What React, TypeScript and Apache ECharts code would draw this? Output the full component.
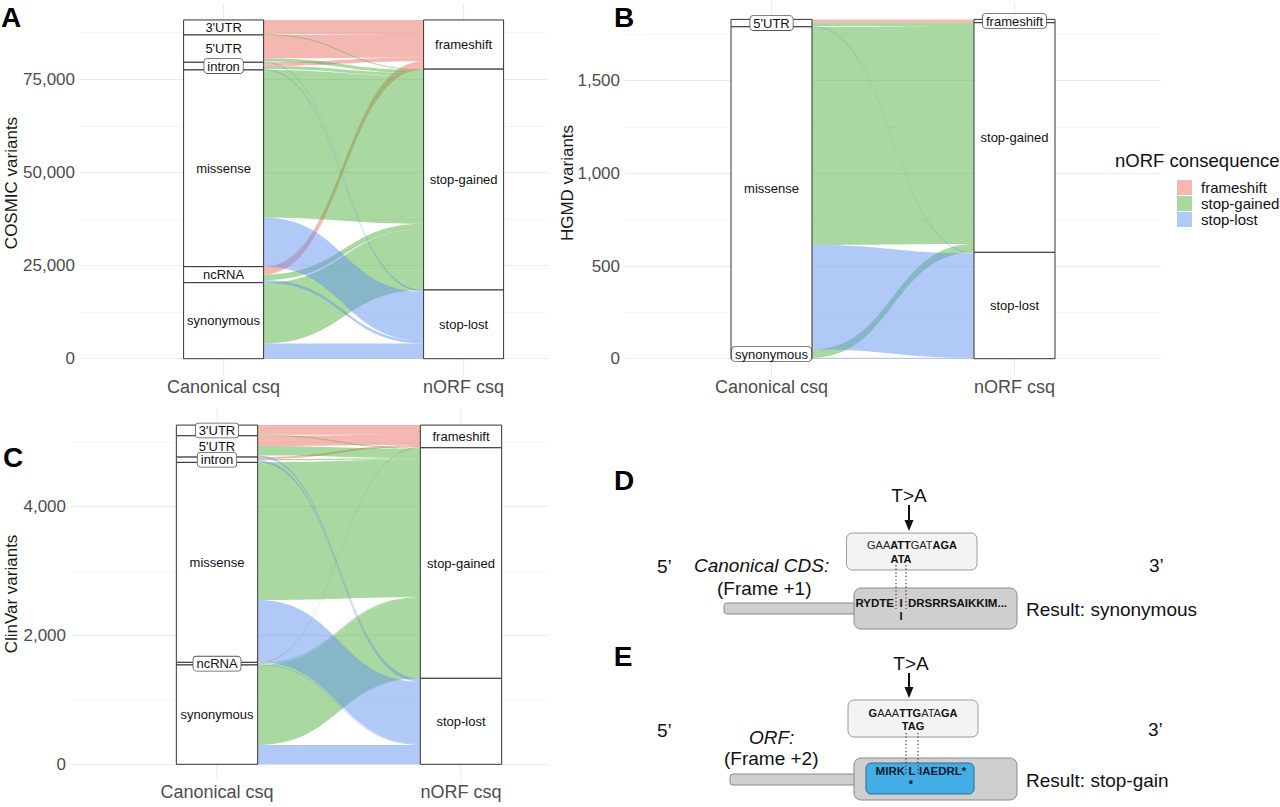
import React, { useEffect, useRef } from "react";
import * as echarts from "echarts";

const FONT = "'Liberation Sans', Arial, Helvetica, sans-serif";

// ---------- data ----------
const canonicalCsq = ["3'UTR", "5'UTR", "intron", "missense", "ncRNA", "synonymous"];
const norfCsq = ["frameshift", "stop-gained", "stop-lost"];
const axisCategories = ["Canonical csq", "nORF csq"];

// flows: one array per nORF consequence, values per canonical consequence (same order as canonicalCsq)
const cosmicFrameshift = [3800, 6300, 1000, 0, 2100, 0];
const cosmicStopGained = [230, 800, 800, 39650, 1500, 16300];
const cosmicStopLost = [0, 230, 260, 13150, 700, 4100];

const hgmdFrameshift = [0, 18, 0, 0, 0, 0];
const hgmdStopGained = [0, 17, 0, 1177, 0, 45];
const hgmdStopLost = [0, 5, 0, 564, 0, 5];

const clinvarFrameshift = [150, 160, 30, 0, 12, 0];
const clinvarStopGained = [16, 146, 22, 2137, 17, 1242];
const clinvarStopLost = [0, 25, 30, 968, 12, 300];

// strata whose labels are drawn in a box (geom_label)
const cosmicBoxed = ["intron"];
const hgmdBoxed = ["5'UTR", "synonymous", "frameshift"];
const clinvarBoxed = ["3'UTR", "intron", "ncRNA"];

const yTitles = ["COSMIC variants", "HGMD variants", "ClinVar variants"];
const panelLetters = ["A", "B", "C", "D", "E"];

// ---------- styles ----------
const FLOW_COLORS = ["rgba(236,112,99,0.5)", "rgba(84,178,66,0.5)", "rgba(100,148,238,0.5)"];
const BOX_W = 1 / 3;

function buildAlluvial(flows: number[][], boxed: string[]) {
  const leftTot = canonicalCsq.map((_, i) => flows.reduce((s, f) => s + f[i], 0));
  const rightTot = norfCsq.map((_, k) => flows[k].reduce((s, v) => s + v, 0));
  const total = leftTot.reduce((a, b) => a + b, 0);
  const strata: number[][] = [];
  const lodeL: number[][][] = norfCsq.map(() => []);
  const lodeR: number[][][] = norfCsq.map(() => []);
  let cur = total;
  canonicalCsq.forEach((name, i) => {
    if (leftTot[i] > 0) strata.push([1, cur - leftTot[i], cur, i, 0, boxed.includes(name) ? 1 : 0]);
    norfCsq.forEach((_, k) => {
      lodeL[k][i] = [cur - flows[k][i], cur];
      cur -= flows[k][i];
    });
  });
  cur = total;
  norfCsq.forEach((name, k) => {
    if (rightTot[k] > 0) strata.push([2, cur - rightTot[k], cur, k, 1, boxed.includes(name) ? 1 : 0]);
    canonicalCsq.forEach((_, i) => {
      lodeR[k][i] = [cur - flows[k][i], cur];
      cur -= flows[k][i];
    });
  });
  const flowItems: number[][] = [];
  norfCsq.forEach((_, k) => {
    canonicalCsq.forEach((_, i) => {
      if (flows[k][i] > 0) flowItems.push([lodeL[k][i][0], lodeL[k][i][1], lodeR[k][i][0], lodeR[k][i][1], k]);
    });
  });
  return { strata, flowItems, total };
}

const panels = [
  {
    flows: [cosmicFrameshift, cosmicStopGained, cosmicStopLost], boxed: cosmicBoxed,
    grid: { left: 80, top: 32.7, width: 468, height: 326 }, xMin: 0.40167, xMax: 2.35167,
    yMax: 87500, yStep: 12500, yMajor: 25000,
  },
  {
    flows: [hgmdFrameshift, hgmdStopGained, hgmdStopLost], boxed: hgmdBoxed,
    grid: { left: 625, top: 34.4, width: 536, height: 324.3 }, xMin: 0.3971, xMax: 2.6029,
    yMax: 1750, yStep: 250, yMajor: 500,
  },
  {
    flows: [clinvarFrameshift, clinvarStopGained, clinvarStopLost], boxed: clinvarBoxed,
    grid: { left: 71, top: 442.3, width: 477, height: 322 }, xMin: 0.4016, xMax: 2.3566,
    yMax: 5000, yStep: 1000, yMajor: 2000,
  },
];

function txt(x: number, y: number, text: string, o: any = {}) {
  return {
    type: "text", x, y, silent: true, rotation: o.rotation || 0,
    style: {
      text, fontFamily: FONT, fontSize: o.size || 19, fontWeight: o.weight || "normal",
      fontStyle: o.italic ? "italic" : "normal", fill: o.color || "#111",
      align: o.align || "left", verticalAlign: "middle", rich: o.rich,
    },
  };
}

function seqRich(size: number) {
  return {
    n: { fontFamily: FONT, fontSize: size, fill: "#222" },
    b: { fontFamily: FONT, fontSize: size, fontWeight: "bold", fill: "#111" },
  };
}

function buildDiagram() {
  const g: any[] = [];
  const boxStroke = "#8A8A8A";
  const dash = { stroke: "#222", lineWidth: 1.1, lineDash: [1.2, 2.4] };
  // ---- D ----
  g.push(txt(657, 566, "5\u2019"));
  g.push(txt(1149, 565, "3\u2019"));
  g.push(txt(694, 565, "Canonical CDS:", { italic: true }));
  g.push(txt(717, 588, "(Frame +1)"));
  g.push(txt(909, 495, "T>A", { align: "center" }));
  g.push({ type: "line", silent: true, shape: { x1: 909, y1: 505, x2: 909, y2: 522 }, style: { stroke: "#111", lineWidth: 2 } });
  g.push({ type: "polygon", silent: true, shape: { points: [[904.5, 520], [913.5, 520], [909, 531]] }, style: { fill: "#111" } });
  g.push({ type: "rect", silent: true, shape: { x: 846.5, y: 533, width: 130.5, height: 37, r: 6 }, style: { fill: "#F3F3F3", stroke: "#9A9A9A", lineWidth: 1 } });
  g.push(txt(912, 545, "{n|GAA}{b|ATT}{n|GAT}{b|AGA}", { align: "center", rich: seqRich(11) }));
  g.push(txt(901, 559, "ATA", { align: "center", size: 11, weight: "bold" }));
  g.push({ type: "rect", silent: true, shape: { x: 724, y: 603, width: 136, height: 11, r: 3 }, style: { fill: "#CFCFCF", stroke: boxStroke, lineWidth: 1 } });
  g.push({ type: "rect", silent: true, shape: { x: 854, y: 588, width: 163, height: 41, r: 7 }, style: { fill: "#CFCFCF", stroke: boxStroke, lineWidth: 1 } });
  g.push({ type: "line", silent: true, shape: { x1: 896, y1: 565, x2: 896, y2: 609 }, style: dash });
  g.push({ type: "line", silent: true, shape: { x1: 906, y1: 565, x2: 906, y2: 609 }, style: dash });
  g.push(txt(894, 603, "RYDTE", { align: "right", size: 11.5, weight: "bold" }));
  g.push(txt(901, 603, "I", { align: "center", size: 11.5, weight: "bold" }));
  g.push(txt(908, 603, "DRSRRSAIKKIM...", { size: 11.5, weight: "bold" }));
  g.push(txt(901, 616, "I", { align: "center", size: 11, weight: "bold" }));
  g.push(txt(1026, 609, "Result: synonymous"));
  // ---- E ----
  g.push(txt(657, 730, "5\u2019"));
  g.push(txt(1148, 729, "3\u2019"));
  g.push(txt(749, 737, "ORF:", { italic: true }));
  g.push(txt(724, 758, "(Frame +2)"));
  g.push(txt(911, 663, "T>A", { align: "center" }));
  g.push({ type: "line", silent: true, shape: { x1: 909, y1: 673, x2: 909, y2: 689 }, style: { stroke: "#111", lineWidth: 2 } });
  g.push({ type: "polygon", silent: true, shape: { points: [[904.5, 687], [913.5, 687], [909, 698]] }, style: { fill: "#111" } });
  g.push({ type: "rect", silent: true, shape: { x: 848, y: 700, width: 130, height: 37, r: 6 }, style: { fill: "#F3F3F3", stroke: "#9A9A9A", lineWidth: 1 } });
  g.push(txt(913, 713, "{b|G}{n|AAA}{b|TTG}{n|ATA}{b|GA}", { align: "center", rich: seqRich(11) }));
  g.push(txt(913, 726, "TAG", { align: "center", size: 11, weight: "bold" }));
  g.push({ type: "rect", silent: true, shape: { x: 730, y: 774, width: 130, height: 11, r: 3 }, style: { fill: "#CFCFCF", stroke: boxStroke, lineWidth: 1 } });
  g.push({ type: "rect", silent: true, shape: { x: 854, y: 758, width: 163, height: 42, r: 7 }, style: { fill: "#CFCFCF", stroke: boxStroke, lineWidth: 1 } });
  g.push({ type: "rect", silent: true, shape: { x: 866, y: 763, width: 108, height: 31, r: 5 }, style: { fill: "#45ADE6", stroke: "#2E6E96", lineWidth: 1 } });
  g.push({ type: "line", silent: true, shape: { x1: 906, y1: 733, x2: 906, y2: 775 }, style: dash });
  g.push({ type: "line", silent: true, shape: { x1: 918, y1: 733, x2: 918, y2: 775 }, style: dash });
  g.push(txt(905, 771, "MIRK", { align: "right", size: 11.5, weight: "bold", color: "#0d1b2e" }));
  g.push(txt(912, 771, "L", { align: "center", size: 11.5, weight: "bold", color: "#0d1b2e" }));
  g.push(txt(919, 771, "IAEDRL*", { size: 11.5, weight: "bold", color: "#0d1b2e" }));
  g.push(txt(911, 784, "*", { align: "center", size: 11, weight: "bold", color: "#0d1b2e" }));
  g.push(txt(1026, 780, "Result: stop-gain"));
  return g;
}

function buildOption() {
  const grid: any[] = [];
  const xAxis: any[] = [];
  const yAxis: any[] = [];
  const series: any[] = [];

  panels.forEach((p, pi) => {
    const { strata, flowItems, total } = buildAlluvial(p.flows, p.boxed);
    grid.push({ ...p.grid, outerBoundsMode: "none" });
    xAxis.push({
      type: "value", gridIndex: pi, min: p.xMin, max: p.xMax,
      axisLine: { show: false }, axisTick: { show: false }, splitLine: { show: false },
      axisLabel: {
        customValues: [1, 2], margin: 19, color: "#4D4D4D", fontSize: 18, fontFamily: FONT,
        formatter: (v: number) => (Math.abs(v - 1) < 1e-6 ? axisCategories[0] : Math.abs(v - 2) < 1e-6 ? axisCategories[1] : ""),
      },
    });
    yAxis.push({
      type: "value", gridIndex: pi, min: 0, max: p.yMax, interval: p.yStep,
      axisLine: { show: false }, axisTick: { show: false },
      splitLine: { show: true, lineStyle: { color: ["#EBEBEB", "#F5F5F5"], width: 1 } },
      axisLabel: {
        margin: 5, color: "#4D4D4D", fontSize: 17, fontFamily: FONT,
        formatter: (v: number) => (Math.round(v) % p.yMajor === 0 ? Math.round(v).toLocaleString("en-US") : ""),
      },
    });
    const yLo = -0.05 * total;
    const yHi = 1.05 * total;
    series.push({
      type: "custom", xAxisIndex: pi, yAxisIndex: pi, silent: true,
      data: [[1, 0], [2, 0]],
      renderItem: (_: any, api: any) => {
        const a = api.coord([api.value(0), yLo]);
        const b = api.coord([api.value(0), yHi]);
        return { type: "line", shape: { x1: a[0], y1: a[1], x2: b[0], y2: b[1] }, style: { stroke: "#EBEBEB", lineWidth: 1 } };
      },
    });
    series.push({
      type: "custom", xAxisIndex: pi, yAxisIndex: pi, silent: true,
      data: flowItems,
      renderItem: (_: any, api: any) => {
        const lb = api.value(0), lt = api.value(1), rb = api.value(2), rt = api.value(3), k = api.value(4);
        const xl = 1 + BOX_W / 2, xr = 2 - BOX_W / 2;
        const a = api.coord([xl, lt]), b = api.coord([xr, rt]), c = api.coord([xr, rb]), d = api.coord([xl, lb]);
        const xm = (a[0] + b[0]) / 2;
        const path = `M${a[0]},${a[1]} C${xm},${a[1]} ${xm},${b[1]} ${b[0]},${b[1]} L${c[0]},${c[1]} C${xm},${c[1]} ${xm},${d[1]} ${d[0]},${d[1]} Z`;
        return { type: "path", shape: { pathData: path }, style: { fill: FLOW_COLORS[k] } };
      },
    });
    series.push({
      type: "custom", xAxisIndex: pi, yAxisIndex: pi, silent: true,
      data: strata,
      renderItem: (_: any, api: any) => {
        const x = api.value(0), b = api.value(1), t = api.value(2);
        const p0 = api.coord([x - BOX_W / 2, t]);
        const p1 = api.coord([x + BOX_W / 2, b]);
        return {
          type: "rect", shape: { x: p0[0], y: p0[1], width: p1[0] - p0[0], height: p1[1] - p0[1] },
          style: { fill: "#FFFFFF", stroke: "#333333", lineWidth: 1 },
        };
      },
    });
    series.push({
      type: "custom", xAxisIndex: pi, yAxisIndex: pi, silent: true,
      data: strata,
      renderItem: (_: any, api: any) => {
        const x = api.value(0), b = api.value(1), t = api.value(2), idx = api.value(3), side = api.value(4), boxed = api.value(5);
        const c = api.coord([x, (b + t) / 2]);
        const name = side === 0 ? canonicalCsq[idx] : norfCsq[idx];
        const boxStyle = boxed
          ? { backgroundColor: "#FFFFFF", borderColor: "#555555", borderWidth: 0.8, borderRadius: 3, padding: [1, 3, 0, 3] }
          : {};
        return {
          type: "text", x: c[0], y: c[1],
          style: { text: name, fontFamily: FONT, fontSize: 13, fill: "#111", align: "center", verticalAlign: "middle", ...boxStyle },
        };
      },
    });
  });

  const graphic: any[] = [];
  // y-axis titles
  graphic.push(txt(11, 183, yTitles[0], { size: 17, align: "center", rotation: Math.PI / 2, color: "#1a1a1a" }));
  graphic.push(txt(567, 183, yTitles[1], { size: 17, align: "center", rotation: Math.PI / 2, color: "#1a1a1a" }));
  graphic.push(txt(11, 594, yTitles[2], { size: 17, align: "center", rotation: Math.PI / 2, color: "#1a1a1a" }));
  // panel letters
  const letterPos = [[11, 17], [624, 17], [13, 457], [624, 480], [623, 656]];
  panelLetters.forEach((l, i) => graphic.push(txt(letterPos[i][0], letterPos[i][1], l, { size: 28, weight: "bold", align: "center", color: "#000" })));
  // legend
  graphic.push(txt(1115, 160, "nORF consequence", { size: 18.5 }));
  norfCsq.forEach((n, k) => {
    graphic.push({ type: "rect", silent: true, shape: { x: 1177, y: 180 + k * 16, width: 15, height: 15 }, style: { fill: FLOW_COLORS[k] } });
    graphic.push(txt(1201, 187.5 + k * 16, n, { size: 15 }));
  });
  buildDiagram().forEach((e) => graphic.push(e));

  return {
    animation: false,
    backgroundColor: "#FFFFFF",
    textStyle: { fontFamily: FONT },
    grid, xAxis, yAxis, series, graphic,
  };
}

export default function App() {
  const ref = useRef<HTMLDivElement>(null);
  useEffect(() => {
    const chart = echarts.init(ref.current as HTMLDivElement, null, { renderer: "svg" });
    chart.setOption(buildOption() as any);
    return () => chart.dispose();
  }, []);
  return <div ref={ref} style={{ position: "fixed", left: 0, top: 0, width: 1280, height: 807, background: "#fff" }} />;
}
